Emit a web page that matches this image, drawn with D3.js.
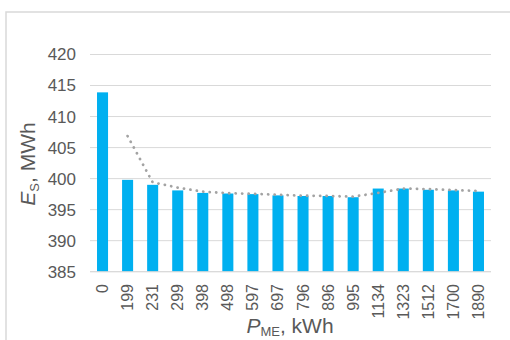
<!DOCTYPE html>
<html>
<head>
<meta charset="utf-8">
<script src="https://cdn.jsdelivr.net/npm/d3@7/dist/d3.min.js"></script>
<style>
  html, body { margin: 0; padding: 0; background: #fff; }
  svg { display: block; font-family: "Liberation Sans", Arial, sans-serif; }
</style>
</head>
<body>
<svg id="chart" width="510" height="340"></svg>
<script>
// Shore energy E_S for each P_ME setting
const categories = ["0", "199", "231", "299", "398", "498", "597", "697", "796", "896", "995", "1134", "1323", "1512", "1700", "1890"];
const energyValues = [413.9, 399.8, 399.0, 398.1, 397.7, 397.6, 397.5, 397.3, 397.2, 397.2, 397.0, 398.4, 398.4, 398.2, 398.1, 397.9];
// Two-period moving-average trendline (starts at the second category)
const trendValues = [null, 406.85, 399.4, 398.55, 397.9, 397.65, 397.55, 397.4, 397.25, 397.2, 397.1, 397.7, 398.4, 398.3, 398.15, 398.0];
const yTicks = [385, 390, 395, 400, 405, 410, 415, 420];

const svg = d3.select("#chart");

// chart area frame
svg.append("path")
  .attr("d", "M6,340 V12 H510")
  .attr("fill", "none")
  .attr("stroke", "#d9d9d9")
  .attr("stroke-width", 1.5);

const x = d3.scaleBand()
  .domain(categories)
  .range([90, 491])
  .paddingInner(0.56)
  .paddingOuter(0.28);

const y = d3.scaleLinear()
  .domain([385, 420])
  .range([271.7, 54.5]);

// gridlines
svg.append("g")
  .selectAll("line")
  .data(yTicks)
  .join("line")
  .attr("x1", 90)
  .attr("x2", 491)
  .attr("y1", d => y(d))
  .attr("y2", d => y(d))
  .attr("stroke", "#d9d9d9")
  .attr("stroke-width", 1);

// y axis labels
const yAxis = svg.append("g")
  .attr("transform", "translate(90,0)")
  .call(d3.axisLeft(y).tickValues(yTicks).tickSize(0).tickPadding(14));
yAxis.select(".domain").remove();
yAxis.selectAll("text")
  .attr("fill", "#595959")
  .style("font-size", "17px")
  .style("font-family", "'Liberation Sans', Arial, sans-serif");

// bars
svg.append("g")
  .selectAll("rect")
  .data(energyValues)
  .join("rect")
  .attr("x", (d, i) => x(categories[i]))
  .attr("width", x.bandwidth())
  .attr("y", d => y(d))
  .attr("height", d => y(385) - y(d))
  .attr("fill", "#00b0f0");

// baseline axis
svg.append("line")
  .attr("x1", 90).attr("x2", 491)
  .attr("y1", y(385)).attr("y2", y(385))
  .attr("stroke", "#d9d9d9")
  .attr("stroke-width", 1);

// dotted moving-average trendline
const line = d3.line()
  .defined(d => d.v != null)
  .x(d => x(d.c) + x.bandwidth() / 2)
  .y(d => y(d.v));
svg.append("path")
  .datum(categories.map((c, i) => ({ c, v: trendValues[i] })))
  .attr("d", line)
  .attr("fill", "none")
  .attr("stroke", "#a3a3a3")
  .attr("stroke-width", 2.8)
  .attr("stroke-linecap", "round")
  .attr("stroke-dasharray", "0.1 6.4");

// x axis labels (rotated)
svg.append("g")
  .selectAll("text")
  .data(categories)
  .join("text")
  .attr("transform", d => `translate(${x(d) + x.bandwidth() / 2},284) rotate(-90)`)
  .attr("text-anchor", "end")
  .attr("dominant-baseline", "central")
  .attr("fill", "#595959")
  .style("font-size", "16px")
  .text(d => d);

// axis titles
const yTitle = svg.append("text")
  .attr("transform", "translate(35,164) rotate(-90)")
  .attr("text-anchor", "middle")
  .attr("fill", "#595959")
  .style("font-size", "21px");
yTitle.append("tspan").style("font-style", "italic").text("E");
yTitle.append("tspan").style("font-size", "13px").attr("dy", 4).text("S");
yTitle.append("tspan").attr("dy", -4).text(", MWh");

const xTitle = svg.append("text")
  .attr("x", 290)
  .attr("y", 333)
  .attr("text-anchor", "middle")
  .attr("fill", "#595959")
  .style("font-size", "21px");
xTitle.append("tspan").style("font-style", "italic").text("P");
xTitle.append("tspan").style("font-size", "13px").attr("dy", 3).text("ME");
xTitle.append("tspan").attr("dy", -3).text(", kWh");
</script>
</body>
</html>
